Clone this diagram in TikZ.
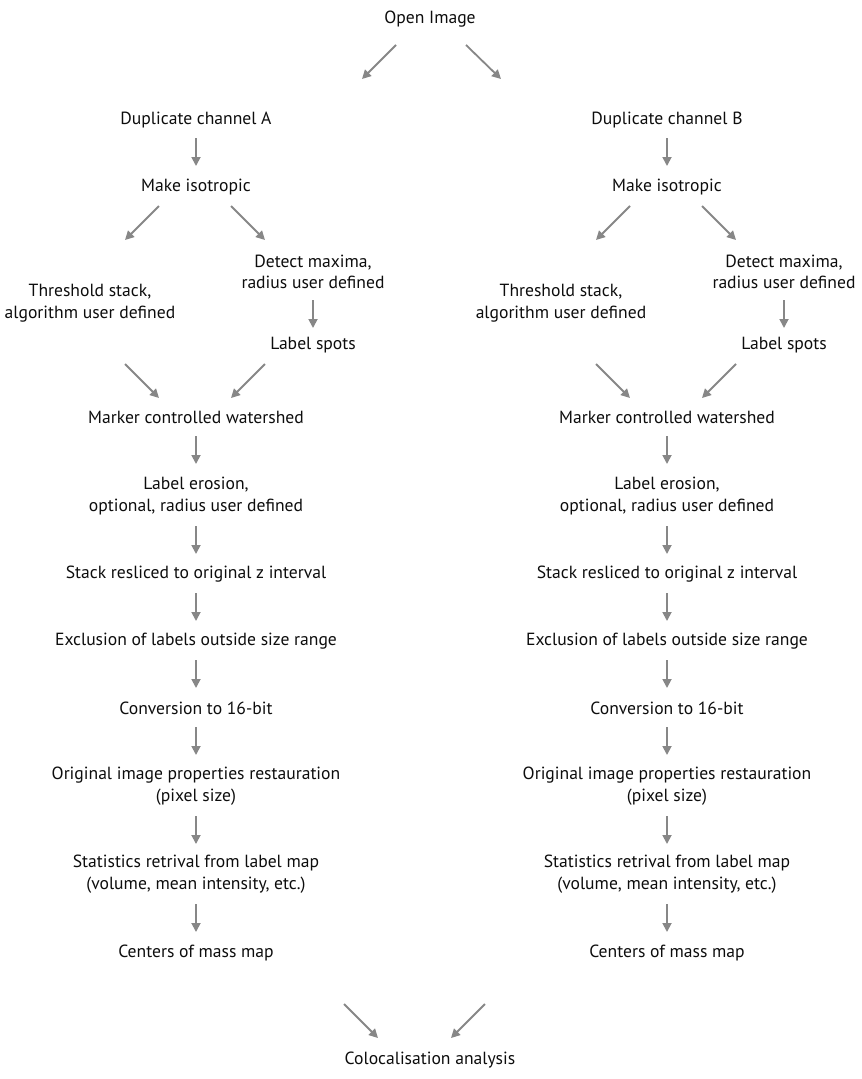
\documentclass[tikz,border=0pt]{standalone}
\usepackage{fontspec}
\setmainfont{PT Sans}
\usetikzlibrary{arrows.meta}
\begin{document}
\begin{tikzpicture}[x=1pt,y=-1pt,
  lbl/.style={inner sep=0pt,align=center,font=\fontsize{17.6}{21.5}\selectfont,text=black!95},
  arr/.style={draw=black!47,line width=1.8pt,-{Triangle[length=9pt,width=9pt]}}]
\useasboundingbox (0,0) rectangle (862,1079);
\node[lbl] (open) at (430,19) {Open Image};
\coordinate (o1s) at (396,45); \coordinate (o1e) at (362,79);
\coordinate (o2s) at (466,45); \coordinate (o2e) at (501,79);
\draw[arr] (o1s) -- (o1e);
\draw[arr] (o2s) -- (o2e);
\foreach \c/\x in {A/196,B/667}{
  \node[lbl] (dup\c) at (\x,120) {Duplicate channel \c};
  \node[lbl] (iso\c) at (\x,187) {Make isotropic};
  \node[lbl] (det\c) at (\x+117,272) {Detect maxima,\\radius user defined};
  \node[lbl] (thr\c) at (\x-106,303) {Threshold stack,\\algorithm user defined};
  \node[lbl] (spot\c) at (\x+117,345) {Label spots};
  \node[lbl] (ws\c) at (\x,417) {Marker controlled watershed};
  \node[lbl] (ero\c) at (\x,496) {Label erosion,\\optional, radius user defined};
  \node[lbl] (res\c) at (\x,574) {Stack resliced to original z interval};
  \node[lbl] (exc\c) at (\x,641) {Exclusion of labels outside size range};
  \node[lbl] (con\c) at (\x,708) {Conversion to 16-bit};
  \node[lbl] (ori\c) at (\x,786) {Original image properties restauration\\(pixel size)};
  \node[lbl] (sta\c) at (\x,874) {Statistics retrival from label map\\(volume, mean intensity, etc.)};
  \node[lbl] (cen\c) at (\x,953) {Centers of mass map};
  % vertical arrows
  \foreach \n/\ya in {v1/138,v2/436,v3/526,v4/593,v5/660,v6/727,v7/816,v8/904}{
    \coordinate (\n s\c) at (\x,\ya);
    \coordinate (\n e\c) at (\x,\ya+28);
    \draw[arr] (\n s\c) -- (\n e\c);
  }
  \coordinate (dsp s\c) at (\x+117,300); \coordinate (dsp e\c) at (\x+117,328);
  \draw[arr] (dsp s\c) -- (dsp e\c);
  % diagonal arrows
  \coordinate (d1s\c) at (\x-37,206); \coordinate (d1e\c) at (\x-71,240);
  \coordinate (d2s\c) at (\x+35,206); \coordinate (d2e\c) at (\x+69,240);
  \coordinate (d3s\c) at (\x-71,364); \coordinate (d3e\c) at (\x-37,398);
  \coordinate (d4s\c) at (\x+69,364); \coordinate (d4e\c) at (\x+35,398);
  \draw[arr] (d1s\c) -- (d1e\c);
  \draw[arr] (d2s\c) -- (d2e\c);
  \draw[arr] (d3s\c) -- (d3e\c);
  \draw[arr] (d4s\c) -- (d4e\c);
}
\coordinate (b1s) at (344,1004); \coordinate (b1e) at (378,1038);
\coordinate (b2s) at (485,1004); \coordinate (b2e) at (451,1038);
\draw[arr] (b1s) -- (b1e);
\draw[arr] (b2s) -- (b2e);
\node[lbl] (col) at (430,1060) {Colocalisation analysis};
\end{tikzpicture}
\end{document}
